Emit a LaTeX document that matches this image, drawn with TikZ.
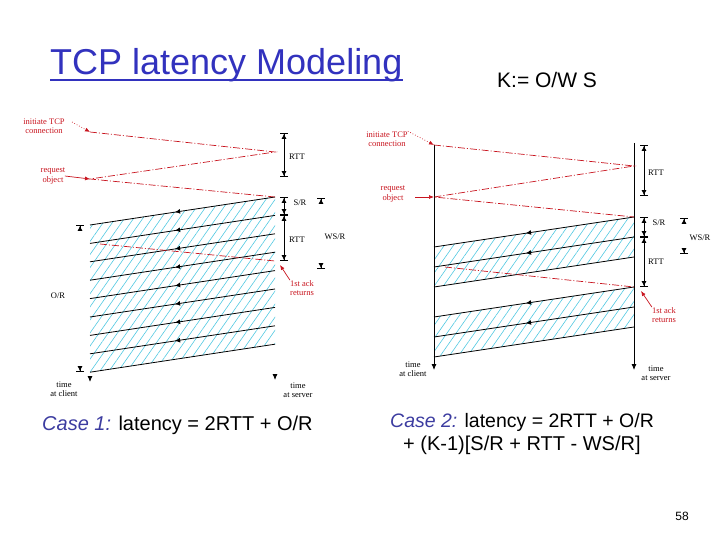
\documentclass[tikz,border=0pt]{standalone}
\usepackage{fontspec}
\setmainfont{Liberation Serif}
\setsansfont{Liberation Sans}
\usetikzlibrary{arrows.meta,patterns.meta,decorations.markings}

\definecolor{titleblue}{RGB}{50,50,190}
\definecolor{caseblue}{RGB}{60,60,160}
\definecolor{ackred}{RGB}{200,20,30}
\definecolor{hatchcyan}{RGB}{80,200,225}

\tikzset{
  seg/.style={line width=0.8pt},
  segarr/.style={seg,decoration={markings,mark=at position .54 with {\arrow{Latex[length=5pt,width=5pt]}}},postaction={decorate}},
  redline/.style={ackred,line width=0.7pt,dash pattern=on 7pt off 2pt on 1pt off 2pt},
  hatch/.style={pattern={Lines[angle=55,distance=7.5pt,line width=0.6pt]},pattern color=hatchcyan},
  dimline/.style={line width=0.8pt,{Bar[width=8pt]Latex[length=5pt,width=5pt]}-{Latex[length=5pt,width=5pt]Bar[width=8pt]}},
  endtip/.style={line width=0.8pt,-{Latex[length=5pt,width=5pt]Bar[width=8pt]}},
  axis/.style={line width=0.8pt,-{Latex[length=6pt,width=5pt]}},
  tinylab/.style={font=\fontsize{8.5}{9.5}\selectfont,align=center,inner sep=0pt},
  redlab/.style={tinylab,text=ackred},
  redarrow/.style={ackred,line width=0.7pt,-{Latex[length=5pt,width=4pt]}},
}

\begin{document}
\begin{tikzpicture}[x=1pt,y=-1pt]
\useasboundingbox (0,0) rectangle (720,540);

% title and heading
\node[titleblue,font=\sffamily\fontsize{36}{40}\selectfont,anchor=base west,inner sep=0pt] (title) at (50,75) {TCP latency Modeling};
\draw[titleblue,line width=1.6pt] ([yshift=-5pt]title.base west) -- ([yshift=-5pt]title.base east);
\node[font=\sffamily\fontsize{21}{24}\selectfont,anchor=base west,inner sep=0pt] (kdef) at (497,88) {K:= O/W S};

% ---- case 1 ----
\coordinate (lc1) at (90,132);
\coordinate (ls1) at (275,152);
\coordinate (lc2) at (90,179);
\coordinate (ls2) at (275,197);
\foreach \i in {0,...,8}{
  \coordinate (lsd\i) at (275,{197+18.4*\i});
  \coordinate (lcd\i) at (90,{225+18.4*\i});
}
\fill[hatch] (lsd0) -- (lcd0) -- (lcd8) -- (lsd8) -- cycle;
\foreach \i in {0,...,7}
  \draw[segarr] (lsd\i) -- (lcd\i);
\draw[seg] (lsd8) -- (lcd8);
\draw[redline] (lc1) -- (ls1) -- (lc2) -- (ls2);
\coordinate (lack0) at (100,244);
\coordinate (lack1) at (275,261);
\draw[redline] (lack0) -- (lack1);

\coordinate (ld0) at (284,133);
\coordinate (ld1) at (284,177);
\coordinate (ld2) at (284,197);
\coordinate (ld3) at (284,215);
\coordinate (ld4) at (284,261);
\draw[dimline] (ld0) -- (ld1);
\draw[dimline] (ld2) -- (ld3);
\draw[dimline] (ld3) -- (ld4);
\draw[endtip] (321,204) -- (321,198);
\draw[endtip] (321,263) -- (321,269);
\draw[endtip] (80,231) -- (80,225);
\draw[endtip] (80,366) -- (80,372);
\draw[axis] (90,376) -- (90,382);
\draw[axis] (275,374) -- (275,380);

\node[redlab] (linit) at (44,126) {initiate TCP\\connection};
\node[redlab] (lreq) at (53,176) {request\\object};
\node[redlab] (lack) at (302,288) {1st ack\\returns};
\draw[redarrow,dotted] (72,122) -- (lc1);
\draw[redarrow] (linit.east |- lreq) -- (lc2);
\draw[redarrow] (lack.north west) -- (280,265);
\node[tinylab] (lrtt1) at (297,157) {RTT};
\node[tinylab] (lsr) at (300,203) {S/R};
\node[tinylab] (lrtt2) at (297,240) {RTT};
\node[tinylab] (lwsr) at (335,237) {WS/R};
\node[tinylab] (lor) at (58,296) {O/R};
\node[tinylab] (ltc) at (64,389) {time\\at client};
\node[tinylab] (lts) at (298,390) {time\\at server};

% ---- case 2 ----
\coordinate (rct) at (434,145);
\coordinate (rcb) at (434,370);
\coordinate (rst) at (634,143);
\coordinate (rsb) at (634,370);
\coordinate (rs1) at (634,166);
\coordinate (rc2) at (434,197);
\coordinate (rs2) at (634,217);
\foreach \w/\ys/\yc in {0/217/247,1/287/317}{
  \foreach \i in {0,1,2}{
    \coordinate (rsd\w\i) at (634,{\ys+20*\i});
    \coordinate (rcd\w\i) at (434,{\yc+20*\i});
  }
  \fill[hatch] (rsd\w0) -- (rcd\w0) -- (rcd\w2) -- (rsd\w2) -- cycle;
  \draw[segarr] (rsd\w0) -- (rcd\w0);
  \draw[segarr] (rsd\w1) -- (rcd\w1);
  \draw[seg] (rsd\w2) -- (rcd\w2);
}
\draw[axis] (rct) -- (rcb);
\draw[axis] (rst) -- (rsb);
\draw[redline] (rct) -- (rs1) -- (rc2) -- (rs2);
\coordinate (rack0) at (445,267);
\coordinate (rack1) at (634,287);
\draw[redline] (rack0) -- (rack1);

\coordinate (rd0) at (644,145);
\coordinate (rd1) at (644,196);
\coordinate (rd2) at (644,217);
\coordinate (rd3) at (644,237);
\coordinate (rd4) at (644,287);
\draw[dimline] (rd0) -- (rd1);
\draw[dimline] (rd2) -- (rd3);
\draw[dimline] (rd3) -- (rd4);
\draw[endtip] (684,224) -- (684,218);
\draw[endtip] (684,248) -- (684,254);

\node[redlab] (rinit) at (387,139) {initiate TCP\\connection};
\node[redlab] (rreq) at (393,194) {request\\object};
\node[redlab] (rack) at (664,315) {1st ack\\returns};
\draw[redarrow,dotted] (rinit.north east) -- (rct);
\draw[redarrow] (415,197) -- (rc2);
\draw[redarrow] (rack.north west) -- (641,291);
\node[tinylab] (rrtt1) at (656,173) {RTT};
\node[tinylab] (rsr) at (659,223) {S/R};
\node[tinylab] (rrtt2) at (656,262) {RTT};
\node[tinylab] (rwsr) at (700,238) {WS/R};
\node[tinylab] (rtc) at (413,369) {time\\at client};
\node[tinylab] (rts) at (656,373) {time\\at server};

% latency formulas
\node[font=\sffamily\fontsize{20}{23}\selectfont,anchor=base west,inner sep=0pt] (case1) at (42,430) {\textcolor{caseblue}{\textit{Case 1:}} latency = 2RTT + O/R};
\node[font=\sffamily\fontsize{19.5}{23}\selectfont,anchor=base west,inner sep=0pt] (case2) at (390,427) {\textcolor{caseblue}{\textit{Case 2:}} latency = 2RTT + O/R};
\node[font=\sffamily\fontsize{20}{23}\selectfont,anchor=base west,inner sep=0pt] (case2b) at (403,450) {+ (K-1)[S/R + RTT - WS/R]};
\node[font=\sffamily\fontsize{12}{14}\selectfont] (page) at (682,516) {58};
\end{tikzpicture}
\end{document}
